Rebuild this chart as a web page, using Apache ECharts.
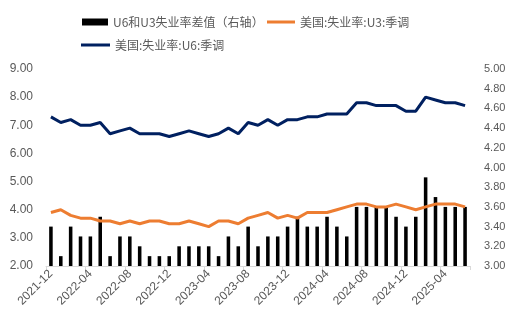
<!DOCTYPE html>
<html><head><meta charset="utf-8">
<script src="https://cdn.jsdelivr.net/npm/echarts@6/dist/echarts.min.js"></script>
<style>html,body{margin:0;padding:0;background:#fff}#c{width:518px;height:324px}</style>
</head><body><div id="c"></div>
<script>
const categories = ["2021-12","2022-01","2022-02","2022-03","2022-04","2022-05","2022-06","2022-07","2022-08","2022-09","2022-10","2022-11","2022-12","2023-01","2023-02","2023-03","2023-04","2023-05","2023-06","2023-07","2023-08","2023-09","2023-10","2023-11","2023-12","2024-01","2024-02","2024-03","2024-04","2024-05","2024-06","2024-07","2024-08","2024-09","2024-10","2024-11","2024-12","2025-01","2025-02","2025-03","2025-04","2025-05","2025-06"];
const u3 = [3.9,4.0,3.8,3.7,3.7,3.6,3.6,3.5,3.6,3.5,3.6,3.6,3.5,3.5,3.6,3.5,3.4,3.6,3.6,3.5,3.7,3.8,3.9,3.7,3.8,3.7,3.9,3.9,3.9,4.0,4.1,4.2,4.2,4.1,4.1,4.2,4.1,4.0,4.1,4.2,4.2,4.2,4.1];
const u6 = [7.3,7.1,7.2,7.0,7.0,7.1,6.7,6.8,6.9,6.7,6.7,6.7,6.6,6.7,6.8,6.7,6.6,6.7,6.9,6.7,7.1,7.0,7.2,7.0,7.2,7.2,7.3,7.3,7.4,7.4,7.4,7.8,7.8,7.7,7.7,7.7,7.5,7.5,8.0,7.9,7.8,7.8,7.7];
const diff = [3.4,3.1,3.4,3.3,3.3,3.5,3.1,3.3,3.3,3.2,3.1,3.1,3.1,3.2,3.2,3.2,3.2,3.1,3.3,3.2,3.4,3.2,3.3,3.3,3.4,3.5,3.4,3.4,3.5,3.4,3.3,3.6,3.6,3.6,3.6,3.5,3.4,3.5,3.9,3.7,3.6,3.6,3.6];
const names = ["U6和U3失业率差值（右轴）","美国:失业率:U3:季调","美国:失业率:U6:季调"];

const chart = echarts.init(document.getElementById('c'), null, {renderer:'canvas'});
const gray = '#595959';
const cjk = '"Noto Sans CJK SC", "Noto Sans", sans-serif';
const num = '"Liberation Sans", Arial, sans-serif';
const legText = {color:gray, fontSize:12, fontFamily:cjk};
chart.setOption({
  animation: false,
  backgroundColor: '#fff',
  legend: [
    {data:[{name:names[0], icon:'rect'}], left: 77, top: 11, itemWidth: 26, itemHeight: 7, itemGap: 4, textStyle:legText},
    {data:[{name:names[1], icon:'rect'}], left: 262, top: 11, itemWidth: 28, itemHeight: 3, itemGap: 4, textStyle:legText},
    {data:[{name:names[2], icon:'rect'}], left: 76, top: 34, itemWidth: 29, itemHeight: 3, itemGap: 4, textStyle:legText}
  ],
  grid: {left: 46, right: 48, top: 69, bottom: 58, containLabel: false},
  xAxis: {
    type: 'category', data: categories, boundaryGap: true,
    axisLine: {lineStyle:{color:'#D9D9D9', width:1}},
    axisTick: {show:true, interval:3, length:4, lineStyle:{color:'#D9D9D9'}},
    axisLabel: {interval:3, rotate:45, color:gray, fontSize:12, fontFamily:num, margin:6}
  },
  yAxis: [
    {type:'value', min:2, max:9, interval:1, splitLine:{show:false}, axisLine:{show:false}, axisTick:{show:false},
     axisLabel:{formatter:v=>v.toFixed(2), color:gray, fontSize:12, fontFamily:num, margin:13}},
    {type:'value', min:3, max:5, interval:0.2, splitLine:{show:false}, axisLine:{show:false}, axisTick:{show:false},
     axisLabel:{formatter:v=>v.toFixed(2), color:gray, fontSize:11, fontFamily:num, margin:14}}
  ],
  series: [
    {name:names[0], type:'bar', yAxisIndex:1, data:diff, barWidth:'36%', itemStyle:{color:'#000000'}},
    {name:names[1], type:'line', yAxisIndex:0, data:u3, symbol:'none', lineStyle:{color:'#ED7D31', width:3}, itemStyle:{color:'#ED7D31'}},
    {name:names[2], type:'line', yAxisIndex:0, data:u6, symbol:'none', lineStyle:{color:'#002060', width:3}, itemStyle:{color:'#002060'}}
  ]
});
</script></body></html>
